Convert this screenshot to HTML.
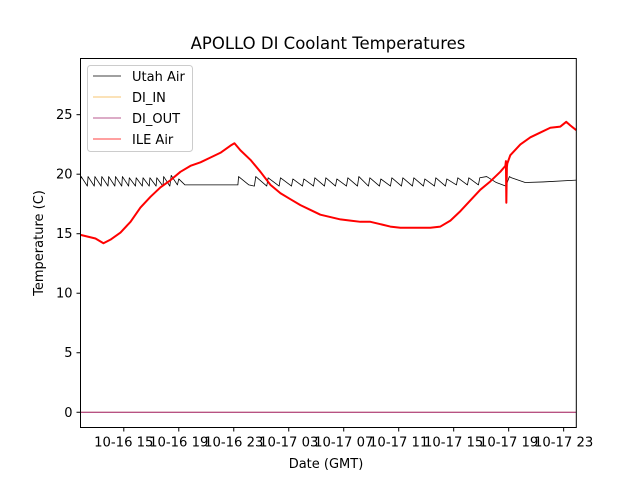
<!DOCTYPE html>
<html><head><meta charset="utf-8"><style>
body{margin:0;background:#fff;}
svg text{font-family:"DejaVu Sans","Liberation Sans",sans-serif;}
</style></head><body>
<svg id="chart" width="640" height="480" xmlns="http://www.w3.org/2000/svg">
<rect width="640" height="480" fill="#fff"/>
<text x="328" y="49" font-size="16.5" text-anchor="middle">APOLLO DI Coolant Temperatures</text>
<g id="plot"></g>
<text x="326" y="468" font-size="13" text-anchor="middle">Date (GMT)</text>
<text transform="translate(43,243) rotate(-90)" font-size="13" text-anchor="middle">Temperature (C)</text>
</svg>
<script>
// hours since 10-16 00:00
const xTickHours = [15,19,23,27,31,35,39,43,47];
const xTickLabels = ["10-16 15","10-16 19","10-16 23","10-17 03","10-17 07","10-17 11","10-17 15","10-17 19","10-17 23"];
const yTicks = [0,5,10,15,20,25];
const ileT = [11.85,12.94,13.52,14.03,14.76,15.49,16.21,16.94,17.67,18.40,19.12,19.85,20.58,21.31,22.03,22.76,23.05,23.49,24.22,24.94,25.67,26.40,27.12,27.85,28.58,29.30,30.03,30.76,31.49,32.21,32.94,33.67,34.39,35.12,35.85,36.58,37.30,38.03,38.76,39.49,40.21,40.94,41.67,42.39,42.76,42.80,42.83,42.87,42.90,43.12,43.85,44.58,45.30,46.03,46.76,47.19,47.48,47.92];
const ileV = [14.9,14.6,14.2,14.5,15.1,16.0,17.2,18.1,18.9,19.5,20.2,20.7,21.0,21.4,21.8,22.4,22.6,22.0,21.2,20.2,19.1,18.4,17.9,17.4,17.0,16.6,16.4,16.2,16.1,16.0,16.0,15.8,15.6,15.5,15.5,15.5,15.5,15.6,16.1,16.9,17.8,18.7,19.4,20.2,20.7,21.1,17.6,20.6,20.9,21.6,22.5,23.1,23.5,23.9,24.0,24.4,24.1,23.7];
const utahT = [11.85,11.9,12.35,12.4,12.85,12.9,13.35,13.4,13.85,13.9,14.35,14.4,14.85,14.9,15.35,15.4,15.85,15.9,16.35,16.4,16.85,16.9,17.35,17.4,17.85,17.9,18.35,18.45,18.9,19.0,19.45,19.6,23.3,23.35,24.1,24.5,24.6,25.4,25.5,26.3,26.4,27.2,27.3,28.0,28.1,28.8,28.9,29.6,29.7,30.4,30.5,31.2,31.3,32.0,32.1,32.8,32.9,33.6,33.7,34.4,34.5,35.2,35.3,36.0,36.1,36.8,36.9,37.6,37.7,38.4,38.5,39.2,39.3,40.0,40.1,40.8,40.9,41.4,42.1,42.8,43.05,43.2,44.2,45.5,47.92];
const utahV = [19.5,19.8,19.0,19.8,19.0,19.8,19.0,19.8,19.0,19.8,19.0,19.8,19.0,19.8,19.0,19.7,19.0,19.7,19.0,19.7,19.0,19.7,19.0,19.7,19.0,19.8,19.0,19.9,19.1,19.6,19.1,19.1,19.1,19.8,19.1,19.0,19.8,19.0,19.7,19.0,19.7,19.0,19.6,19.0,19.6,19.0,19.7,19.0,19.7,19.0,19.6,19.0,19.7,19.0,19.8,19.0,19.7,19.0,19.6,19.0,19.7,19.0,19.7,19.0,19.7,19.0,19.6,19.0,19.7,19.0,19.6,19.1,19.7,19.1,19.7,19.1,19.7,19.8,19.3,19.0,19.8,19.7,19.3,19.35,19.5];
const diT = [11.85,47.92];
const diInV = [0,0];
const diOutV = [0,0];

const L=80.5,R=576.3,T=58.5,B=427.5;
const h0=11.85,h1=47.92,v0=-1.28,v1=29.72;
const xs=h=>L+(h-h0)/(h1-h0)*(R-L);
const ys=v=>B-(v-v0)/(v1-v0)*(B-T);
const NS="http://www.w3.org/2000/svg";
const plot=document.getElementById('plot');
function mk(tag,attrs,parent){const e=document.createElementNS(NS,tag);for(const k in attrs)e.setAttribute(k,attrs[k]);(parent||plot).appendChild(e);return e;}
function line(ts,vs,color,w,name){
  const d=ts.map((t,i)=>(i?'L':'M')+xs(t).toFixed(2)+','+ys(vs[i]).toFixed(2)).join('');
  const p=mk('path',{d:d,fill:'none',stroke:color,'stroke-width':w,'stroke-linejoin':'round'});
  
  
}
line(utahT,utahV,'#000',0.8,'utah-air-line');
line(diT,diInV,'#f5b041',0.8,'di-in-line');
line(diT,diOutV,'#a0206a',0.9,'di-out-line');
line(ileT,ileV,'#ff0000',2,'ile-air-line');
const frame=mk('rect',{x:L,y:T,width:R-L,height:B-T,fill:'none',stroke:'#000','stroke-width':1});


xTickHours.forEach((h,i)=>{
  const x=xs(h);
  const tk=mk('line',{x1:x,x2:x,y1:B,y2:B+4,stroke:'#000'});
  
  
  const t=mk('text',{x:x,y:B+19,'font-size':13.2,'text-anchor':'middle'});
  t.textContent=xTickLabels[i];
  
  
});
yTicks.forEach(v=>{
  const y=ys(v);
  const tk=mk('line',{x1:L-4,x2:L,y1:y,y2:y,stroke:'#000'});
  
  
  const t=mk('text',{x:L-8,y:y+4.5,'font-size':13,'text-anchor':'end'});
  t.textContent=v;
  
  
});
const lg=mk('g',{});


mk('rect',{x:87.5,y:65.5,width:105,height:86,rx:3,fill:'#fff','fill-opacity':0.8,stroke:'#ccc'},lg);
const names=["Utah Air","DI_IN","DI_OUT","ILE Air"], cols=['#000','#f5b041','#a0206a','#ff0000'];
names.forEach((n,i)=>{
  const y=76+i*21;
  const ln=mk('line',{x1:93,x2:121,y1:y,y2:y,stroke:cols[i],'stroke-width':0.8},lg);
  
  
  const t=mk('text',{x:132,y:y+5,'font-size':13},lg);
  t.textContent=n;
  
  
});
</script>
</body></html>
